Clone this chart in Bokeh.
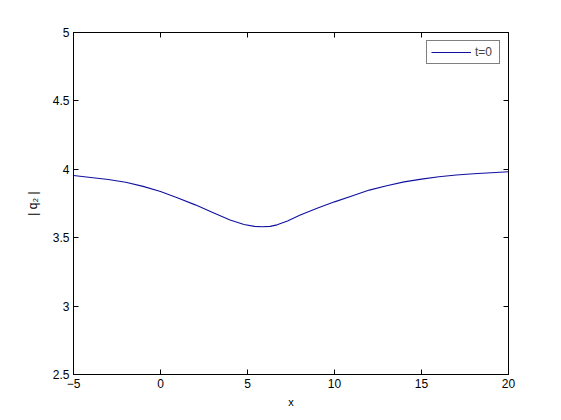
from bokeh.plotting import figure
from bokeh.models import LinearAxis, FixedTicker, Range1d, Legend, LegendItem, CustomJSTickFormatter
from bokeh.embed import file_html
from bokeh.resources import INLINE

# data
x_vals = [-5.0, -4.0, -3.0, -2.0, -1.0, 0.0, 1.0, 2.0, 3.0, 4.0, 4.8, 5.4, 5.84, 6.3, 6.7,
          7.3, 8.0, 9.0, 10.0, 11.0, 12.0, 13.0, 14.0, 15.0, 16.0, 17.0, 18.0, 19.0, 20.0]
y_vals = [3.955, 3.94, 3.925, 3.905, 3.875, 3.838, 3.79, 3.74, 3.685, 3.63, 3.596, 3.583, 3.58,
          3.583, 3.594, 3.622, 3.664, 3.715, 3.762, 3.805, 3.848, 3.88, 3.908, 3.928, 3.945,
          3.958, 3.968, 3.975, 3.982]
x_ticks = [-5, 0, 5, 10, 15, 20]
y_ticks = [2.5, 3, 3.5, 4, 4.5, 5]
y_tick_labels = ["2.5", "3", "3.5", "4", "4.5", "5"]
series_label = "t=0"

FONT = "Liberation Sans"

p = figure(width=553, height=412, frame_width=435, frame_height=342,
           output_backend="svg", toolbar_location=None,
           x_range=Range1d(-5, 20), y_range=Range1d(2.5, 5),
           min_border_left=73, min_border_top=32, min_border_right=45, min_border_bottom=38)
p.background_fill_color = "white"
p.border_fill_color = "white"
p.outline_line_color = "black"
p.outline_line_width = 1
p.xgrid.visible = False
p.ygrid.visible = False

r = p.line(x_vals, y_vals, line_color="#1010a0", line_width=1.1)

def style(ax):
    ax.major_tick_in = 5
    ax.major_tick_out = 0
    ax.minor_tick_in = 0
    ax.minor_tick_out = 0
    ax.axis_line_color = "black"
    ax.major_tick_line_color = "black"
    ax.major_label_text_font = FONT
    ax.major_label_text_font_size = "12px"
    ax.major_label_text_color = "black"
    ax.axis_label_text_font = FONT
    ax.axis_label_text_font_size = "11px"
    ax.axis_label_text_font_style = "normal"
    ax.axis_label_text_color = "black"

p.xaxis.ticker = FixedTicker(ticks=x_ticks)
p.yaxis.ticker = FixedTicker(ticks=y_ticks)
p.yaxis.major_label_overrides = {t: l for t, l in zip(y_ticks, y_tick_labels)}
p.xaxis.axis_label = "x"
p.yaxis.axis_label = "| q\u2082 |"
style(p.xaxis[0])
style(p.yaxis[0])
p.xaxis.major_label_standoff = 4
p.yaxis.major_label_standoff = 4
p.xaxis.axis_label_standoff = 5
p.yaxis.axis_label_standoff = 10
p.yaxis.axis_label_text_font_size = "12px"

blank = CustomJSTickFormatter(code="return ''")
top = LinearAxis(ticker=FixedTicker(ticks=x_ticks), formatter=blank)
style(top)
p.add_layout(top, "above")
right = LinearAxis(ticker=FixedTicker(ticks=y_ticks), formatter=blank)
style(right)
p.add_layout(right, "right")

legend = Legend(items=[LegendItem(label=series_label, renderers=[r])],
                location="top_right")
legend.label_text_font = FONT
legend.label_text_font_size = "12px"
legend.border_line_color = "black"
legend.border_line_width = 1
legend.background_fill_color = "white"
legend.background_fill_alpha = 1
legend.glyph_width = 40
legend.glyph_height = 12
legend.label_standoff = 4
legend.padding = 4
legend.spacing = 0
legend.margin = 8
p.add_layout(legend)

open("out.html", "w").write(file_html(p, INLINE))
